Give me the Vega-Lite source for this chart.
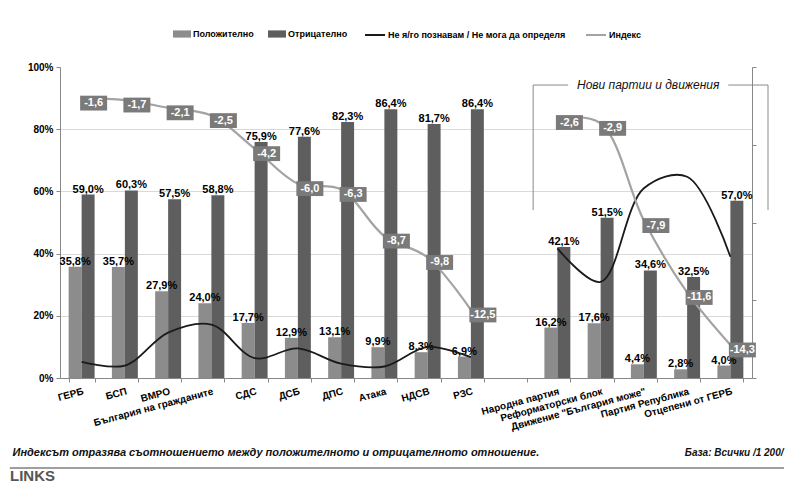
{
  "$schema": "https://vega.github.io/schema/vega-lite/v6.json",
  "width": 692,
  "height": 311,
  "autosize": {"type": "none"},
  "padding": {"left": 60, "top": 67, "right": 37, "bottom": 107},
  "background": "white",
  "config": {
    "locale": {"number": {"decimal": ",", "thousands": " ", "grouping": [3], "currency": ["", ""], "minus": "-"}},
    "view": {"stroke": null},
    "font": "Liberation Sans"
  },
  "title": {
    "text": "LINKS",
    "orient": "bottom",
    "anchor": "start",
    "frame": "group",
    "baseline": "top",
    "offset": 0,
    "dx": -50,
    "fontSize": 15,
    "fontWeight": 900,
    "color": "#555555",
    "font": "Liberation Sans"
  },
  "data": {
    "values": [
      {"party": "ГЕРБ", "grp": "a", "pos": 0.358, "neg": 0.590, "dk": 0.052, "idx": -1.6},
      {"party": "БСП", "grp": "a", "pos": 0.357, "neg": 0.603, "dk": 0.040, "idx": -1.7},
      {"party": "ВМРО", "grp": "a", "pos": 0.279, "neg": 0.575, "dk": 0.146, "idx": -2.1},
      {"party": "България на гражданите", "grp": "a", "pos": 0.240, "neg": 0.588, "dk": 0.172, "idx": -2.5},
      {"party": "СДС", "grp": "a", "pos": 0.177, "neg": 0.759, "dk": 0.064, "idx": -4.2},
      {"party": "ДСБ", "grp": "a", "pos": 0.129, "neg": 0.776, "dk": 0.095, "idx": -6.0},
      {"party": "ДПС", "grp": "a", "pos": 0.131, "neg": 0.823, "dk": 0.046, "idx": -6.3},
      {"party": "Атака", "grp": "a", "pos": 0.099, "neg": 0.864, "dk": 0.037, "idx": -8.7},
      {"party": "НДСВ", "grp": "a", "pos": 0.083, "neg": 0.817, "dk": 0.100, "idx": -9.8},
      {"party": "РЗС", "grp": "a", "pos": 0.069, "neg": 0.864, "dk": 0.067, "idx": -12.5},
      {"party": "Народна партия", "grp": "b", "pos": 0.162, "neg": 0.421, "dk": 0.417, "idx": -2.6},
      {"party": "Реформаторски блок", "grp": "b", "pos": 0.176, "neg": 0.515, "dk": 0.309, "idx": -2.9},
      {"party": "Движение \"България може\"", "grp": "b", "pos": 0.044, "neg": 0.346, "dk": 0.610, "idx": -7.9},
      {"party": "Партия Република", "grp": "b", "pos": 0.028, "neg": 0.325, "dk": 0.647, "idx": -11.6},
      {"party": "Отцепени от ГЕРБ", "grp": "b", "pos": 0.040, "neg": 0.570, "dk": 0.390, "idx": -14.3}
    ]
  },
  "layer": [
    {
      "encoding": {
        "x": {
          "field": "party",
          "type": "nominal",
          "sort": null,
          "scale": {
            "domain": ["ГЕРБ", "БСП", "ВМРО", "България на гражданите", "СДС", "ДСБ", "ДПС", "Атака", "НДСВ", "РЗС", " ", "Народна партия", "Реформаторски блок", "Движение \"България може\"", "Партия Република", "Отцепени от ГЕРБ"],
            "paddingInner": 0.4,
            "paddingOuter": 0.2
          },
          "axis": {
            "title": "Индексът отразява съотношението между положителното и отрицателното отношение.",
            "titleX": -48,
            "titleY": 74,
            "titleAlign": "left",
            "titleAnchor": "start",
            "titleBaseline": "middle",
            "titleFont": "Liberation Sans",
            "titleFontSize": 11,
            "titleFontStyle": "italic",
            "titleFontWeight": "bold",
            "titleColor": "#111111",
            "labelAngle": -15,
            "labelAlign": "right",
            "labelBaseline": "top",
            "labelFont": "Liberation Sans",
            "labelFontSize": 10,
            "labelFontWeight": "bold",
            "labelColor": "#000000",
            "labelOverlap": false,
            "labelBound": false,
            "labelPadding": 4,
            "labelLimit": 300,
            "tickBand": "extent",
            "tickSize": 4,
            "tickColor": "#888888",
            "domainColor": "#888888",
            "grid": false
          }
        }
      },
      "layer": [
        {
          "layer": [
            {
              "transform": [{"fold": ["pos", "neg"], "as": ["series", "val"]}],
              "mark": {"type": "bar"},
              "encoding": {
                "xOffset": {"field": "series", "type": "nominal", "sort": null, "scale": {"domain": ["pos", "neg"], "paddingInner": 0, "paddingOuter": 0}},
                "y": {
                  "field": "val",
                  "type": "quantitative",
                  "scale": {"domain": [0, 1], "nice": false},
                  "axis": {
                    "title": null,
                    "values": [0, 0.2, 0.4, 0.6, 0.8, 1],
                    "format": ".0%",
                    "labelFont": "Liberation Sans",
                    "labelFontSize": 10,
                    "labelFontWeight": "bold",
                    "labelColor": "#000000",
                    "labelPadding": 3,
                    "tickSize": 4,
                    "tickColor": "#888888",
                    "domainColor": "#888888",
                    "grid": true,
                    "gridColor": {"condition": {"test": "datum.value >= 1 || datum.value <= 0", "value": "transparent"}, "value": "#d9d9d9"}
                  }
                },
                "fill": {
                  "field": "series",
                  "type": "nominal",
                  "scale": {"domain": ["pos", "neg"], "range": ["#8c8c8c", "#5e5e5e"]},
                  "legend": {
                    "title": null,
                    "orient": "none",
                    "legendX": 113,
                    "legendY": -42,
                    "direction": "horizontal",
                    "symbolType": "M-1,-0.4H1V0.4H-1Z",
                    "symbolSize": 324,
                    "symbolStrokeWidth": 0,
                    "labelFont": "Liberation Sans",
                    "labelFontSize": 9,
                    "labelFontWeight": "bold",
                    "labelColor": "#000000",
                    "labelOffset": 2,
                    "labelLimit": 400,
                    "columnPadding": 14,
                    "labelExpr": "datum.label == 'pos' ? 'Положително' : 'Отрицателно'"
                  }
                }
              }
            },
            {
              "transform": [{"fold": ["pos", "neg"], "as": ["series", "val"]}],
              "mark": {"type": "text", "baseline": "alphabetic", "dy": -2, "font": "Liberation Sans", "fontSize": 11, "fontWeight": "bold", "color": "#000000"},
              "encoding": {
                "xOffset": {"field": "series", "type": "nominal", "sort": null, "scale": {"domain": ["pos", "neg"], "paddingInner": 0, "paddingOuter": 0}},
                "y": {"field": "val", "type": "quantitative"},
                "text": {"field": "val", "type": "quantitative", "format": ".1%"}
              }
            },
            {
              "mark": {"type": "line", "interpolate": "catmull-rom", "strokeWidth": 1.8},
              "encoding": {
                "y": {"field": "dk", "type": "quantitative"},
                "detail": {"field": "grp"},
                "stroke": {
                  "datum": "dk",
                  "scale": {"domain": ["dk", "idx"], "range": ["#1a1a1a", "#a3a3a3"]},
                  "legend": {
                    "title": null,
                    "orient": "none",
                    "legendX": 304,
                    "legendY": -43,
                    "direction": "horizontal",
                    "symbolType": "stroke",
                    "symbolSize": 400,
                    "symbolStrokeWidth": 2,
                    "labelFont": "Liberation Sans",
                    "labelFontSize": 9,
                    "labelFontWeight": "bold",
                    "labelColor": "#000000",
                    "labelOffset": 2,
                    "labelLimit": 400,
                    "columnPadding": 16,
                    "labelExpr": "datum.label == 'dk' ? 'Не я/го познавам / Не мога да определя' : 'Индекс'"
                  }
                }
              }
            }
          ]
        },
        {
          "layer": [
            {
              "mark": {"type": "line", "interpolate": "catmull-rom", "strokeWidth": 2.2},
              "encoding": {
                "y": {
                  "field": "idx",
                  "type": "quantitative",
                  "scale": {"domain": [-16, 0], "nice": false},
                  "axis": {
                    "orient": "right",
                    "values": [-16, -14, -12, -10, -8, -6, -4, -2, 0],
                    "labels": false,
                    "grid": false,
                    "ticks": true,
                    "tickSize": 4,
                    "tickColor": "#888888",
                    "domainColor": "#888888",
                    "title": "База: Всички /1 200/",
                    "titleAngle": 0,
                    "titleX": 31,
                    "titleY": 385,
                    "titleAlign": "right",
                    "titleBaseline": "middle",
                    "titleFont": "Liberation Sans",
                    "titleFontSize": 10,
                    "titleFontStyle": "italic",
                    "titleFontWeight": "bold",
                    "titleColor": "#111111"
                  }
                },
                "detail": {"field": "grp"},
                "stroke": {"datum": "idx"}
              }
            },
            {
              "mark": {"type": "point", "shape": "M-1,-0.55H1V0.55H-1Z", "size": 729, "filled": true, "opacity": 1, "color": "#7a7a7a", "xOffset": 12, "yOffset": 5},
              "encoding": {
                "y": {"field": "idx", "type": "quantitative"}
              }
            },
            {
              "mark": {"type": "text", "dx": 12, "dy": 5, "baseline": "middle", "align": "center", "font": "Liberation Sans", "fontSize": 11, "fontWeight": "bold", "color": "#ffffff"},
              "encoding": {
                "y": {"field": "idx", "type": "quantitative"},
                "text": {"field": "idx", "type": "quantitative", "format": ".1f"}
              }
            }
          ]
        }
      ],
      "resolve": {"scale": {"y": "independent"}}
    },
    {
      "data": {"values": [{}]},
      "layer": [
        {
          "mark": {"type": "rule", "color": "#8a8a8a", "strokeWidth": 1},
          "encoding": {
            "x": {"datum": 10.94, "type": "quantitative", "scale": {"domain": [-2, 18], "nice": false, "zero": false, "range": [-86.5, 778.5]}, "axis": null},
            "y": {"datum": 0.942, "type": "quantitative", "scale": {"domain": [-0.4, 1], "nice": false, "zero": false, "range": [435.4, 0]}, "axis": null},
            "y2": {"datum": 0.54}
          }
        },
        {
          "mark": {"type": "rule", "color": "#8a8a8a", "strokeWidth": 1},
          "encoding": {
            "x": {"datum": 16.37, "type": "quantitative"},
            "y": {"datum": 0.942, "type": "quantitative"},
            "y2": {"datum": 0.54}
          }
        },
        {
          "mark": {"type": "rule", "color": "#8a8a8a", "strokeWidth": 1},
          "encoding": {
            "x": {"datum": 10.94, "type": "quantitative"},
            "x2": {"datum": 16.37},
            "y": {"datum": 0.942, "type": "quantitative"}
          }
        },
        {
          "mark": {"type": "rect", "color": "#ffffff"},
          "encoding": {
            "x": {"datum": 11.75, "type": "quantitative"},
            "x2": {"datum": 15.45},
            "y": {"datum": 0.965, "type": "quantitative"},
            "y2": {"datum": 0.92}
          }
        },
        {
          "mark": {"type": "text", "text": "Нови партии и движения", "font": "Liberation Sans", "fontSize": 12, "fontStyle": "italic", "color": "#111111", "baseline": "middle", "align": "center"},
          "encoding": {
            "x": {"datum": 13.6, "type": "quantitative"},
            "y": {"datum": 0.942, "type": "quantitative"}
          }
        },
        {
          "mark": {"type": "rect", "color": "#7f7f7f"},
          "encoding": {
            "x": {"datum": -1.16, "type": "quantitative"},
            "x2": {"datum": 16.74},
            "y": {"datum": -0.287, "type": "quantitative"},
            "y2": {"datum": -0.292}
          }
        }
      ]
    }
  ],
  "resolve": {"scale": {"x": "independent", "y": "independent"}}
}
